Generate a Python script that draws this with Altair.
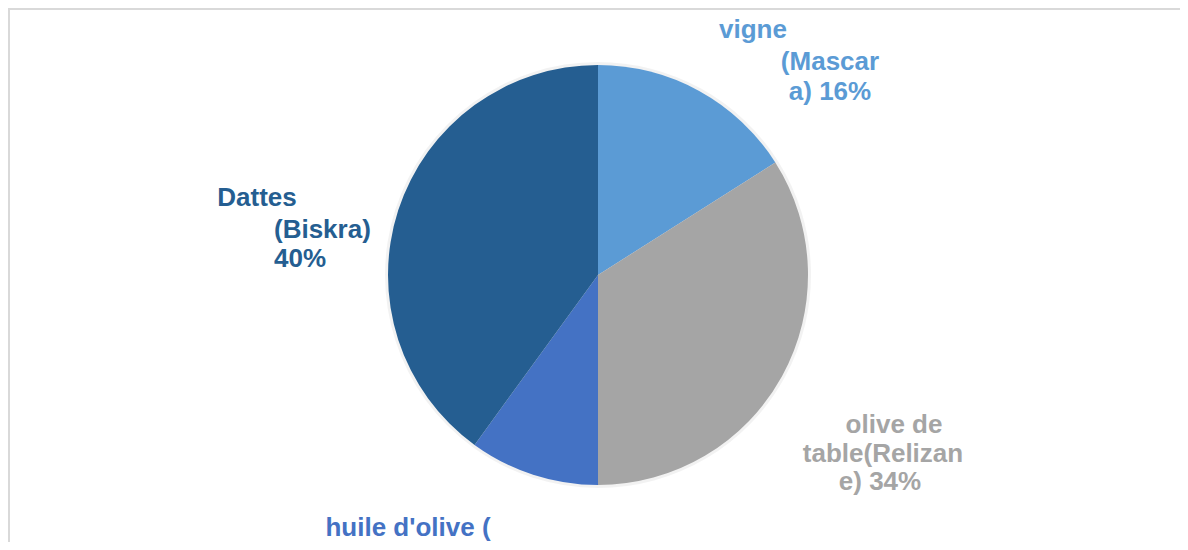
import altair as alt
import pandas as pd

# ---- data ----
categories = ["vigne (Mascara)", "olive de table(Relizane)", "huile d'olive (Sig)", "Dattes (Biskra)"]
shares = [16, 34, 10, 40]
colors = ["#5B9BD5", "#A5A5A5", "#4472C4", "#255E91"]

# label text lines as visible in the original (wrapped; the last label is cut by the frame)
label_lines = [
    ["vigne", "(Mascar", "a) 16%"],
    ["olive de", "table(Relizan", "e) 34%"],
    ["huile d'olive ("],
    ["Dattes", "(Biskra)", "40%"],
]

# ---- layout (page px converted to view px) ----
PAD_L, PAD_T, PAD_R, PAD_B = 8, 2, 0, 2
W, H = 1164, 530
OFF_X, OFF_Y = 8 + PAD_L, 8 + PAD_T
line_pos = [
    [(753, 38, "center"), (830, 70, "center"), (830, 100, "center")],
    [(894, 433, "center"), (883, 462, "center"), (880, 490, "center")],
    [(408, 536, "center")],
    [(257, 206, "center"), (274, 238, "left"), (274, 267, "left")],
]

df = pd.DataFrame({"cat": categories, "share": shares, "order": list(range(len(categories)))})

color_scale = alt.Scale(domain=categories, range=colors)

base = alt.Chart(df)

shadow = base.mark_arc(radius=213, color="#000000", opacity=0.05).encode(
    theta=alt.Theta("share:Q", stack=True),
    order=alt.Order("order:Q"),
)

pie = base.mark_arc(radius=210).encode(
    theta=alt.Theta("share:Q", stack=True),
    color=alt.Color("cat:N", scale=color_scale, legend=None),
    order=alt.Order("order:Q"),
)

layers = [shadow, pie]
for ci, lines in enumerate(label_lines):
    for li, txt in enumerate(lines):
        px, py, al = line_pos[ci][li]
        layers.append(
            alt.Chart(pd.DataFrame({"t": [txt]})).mark_text(
                font="Liberation Sans", fontWeight="bold", fontSize=26,
                color=colors[ci], align=al, baseline="alphabetic",
            ).encode(
                text="t:N",
                x=alt.value(px - OFF_X),
                y=alt.value(py - OFF_Y),
            )
        )

frame_left = alt.Chart(pd.DataFrame({"a": [0]})).mark_rule(color="#D9D9D9", strokeWidth=2).encode(
    x=alt.value(9 - OFF_X), y=alt.value(9 - OFF_Y), y2=alt.value(H + 10)
)
frame_top = alt.Chart(pd.DataFrame({"a": [0]})).mark_rule(color="#D9D9D9", strokeWidth=2).encode(
    y=alt.value(9 - OFF_Y), x=alt.value(8 - OFF_X), x2=alt.value(W + 10)
)

chart = alt.layer(frame_left, frame_top, *layers).properties(
    width=W, height=H,
    padding={"left": PAD_L, "top": PAD_T, "right": PAD_R, "bottom": PAD_B},
    autosize=alt.AutoSizeParams(type="none"),
    background="#FFFFFF",
).configure_view(stroke=None)

chart.save("out.html", embed_options={"renderer": "svg", "actions": False})
